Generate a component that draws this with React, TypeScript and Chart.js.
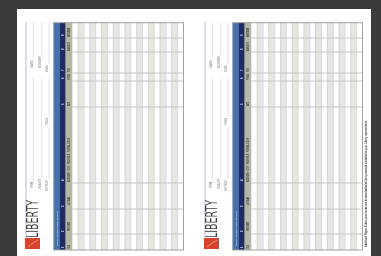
import React, { useEffect, useRef } from "react";
import { Chart, registerables } from "chart.js";

Chart.register(...registerables);

// ---- content ----
const pageOffsets = [0, 179];
const stripeCount = 19;
const rowBreaks = [22.7, 38, 52, 73, 81, 107, 183, 209, 234, 250];
const headerLabels = [
  "SHARES TO SUBSCRIBE",
  "AMOUNT",
  "UNITS",
  "FUND",
  "DATE",
  "ADDRESS · CITY · PROVINCE · POSTAL CODE",
  "LAST NAME",
  "FIRST NAME",
  "TITLE",
];
const headerNumbers = ["9", "8", "7", "6", "5", "4", "3", "2", "1"];
const fieldLabels = ["NAME", "ADVISOR", "EMAIL", "FIRM", "DEALER", "REP CODE", "PHONE"];
const brandName = "LIBERTY";
const sectionTitle = "NEW SUBSCRIPTIONS";
const footerText =
  "Additional Pages: Subscription forms can be downloaded at liberty.com and submitted to your Liberty representative.";

// ---- layout & style ----
const W = 381;
const H = 256;
const L = {
  page: [17, 371, 9, 256],
  rule: 26,
  blue: [53.7, 60],
  navy: [60, 65.7],
  green: [65.7, 72.3],
  grid: [72.3, 183.5],
  top: 22.7,
  bottom: 250,
  logo: [200, 238],
  red: [25, 40, 238, 249],
  footerX: 365.5,
  footerY: [120, 247],
};
// header label placement: gap above segment bottom, drawn length
const headerGap = [1, 1, 1, 1, 1, 1, 4, 3, 1];
const headerLen = [9, 9, 4, 6, 4, 44, 8, 9, 4];
// field geometry: line x, label bottom, label length, line top
const fieldGeom = [
  [33.3, 68, 8, 22.7],
  [41.7, 68, 12, 22.7],
  [49, 72, 7, 22.7],
  [33.3, 188, 6, 78],
  [41.7, 189, 10, 78],
  [49, 191, 11, 127],
  [49, 125, 7, 78],
];

const C = {
  bg: "#3b3b3b",
  page: "#ffffff",
  rule: "#b4b4e0",
  blue: "#4571a8",
  navy: "#1d2b68",
  green: "#b3b9a6",
  stripe: "#e6e7e1",
  sep: "#cfcfcf",
  row: "#c6c6c6",
  border: "#a2a2a2",
  field: "#d4d4d4",
  label: "#9a9a9a",
  red: "#d8432b",
};

const stripeW = (L.grid[1] - L.grid[0]) / stripeCount;
const stripeData: { x: number; y: [number, number] }[] = [];
const stripeColors: string[] = [];
pageOffsets.forEach((off) => {
  for (let i = 0; i < stripeCount; i++) {
    stripeData.push({ x: L.grid[0] + off + (i + 0.5) * stripeW, y: [L.top, L.bottom] });
    stripeColors.push(i % 2 === 1 ? C.stripe : C.page);
  }
});

const formPlugin = {
  id: "formPlugin",
  beforeDatasetsDraw(chart: any) {
    const ctx = chart.ctx;
    const xs = chart.scales.x;
    const ys = chart.scales.y;
    const px = (v: number) => xs.getPixelForValue(v);
    const py = (v: number) => ys.getPixelForValue(v);
    ctx.save();
    ctx.fillStyle = C.bg;
    ctx.fillRect(0, 0, W, H);
    ctx.fillStyle = C.page;
    ctx.fillRect(px(L.page[0]), py(L.page[2]), px(L.page[1]) - px(L.page[0]), py(L.page[3]) - py(L.page[2]));
    ctx.restore();
  },
  afterDatasetsDraw(chart: any) {
    const ctx = chart.ctx;
    const xs = chart.scales.x;
    const ys = chart.scales.y;
    const px = (v: number) => xs.getPixelForValue(v);
    const py = (v: number) => ys.getPixelForValue(v);

    const rect = (x0: number, x1: number, y0: number, y1: number, color: string) => {
      ctx.fillStyle = color;
      ctx.fillRect(px(x0), py(y0), px(x1) - px(x0), py(y1) - py(y0));
    };
    const vline = (x: number, y0: number, y1: number, color: string, lw: number) => {
      ctx.strokeStyle = color;
      ctx.lineWidth = lw;
      ctx.beginPath();
      ctx.moveTo(px(x), py(y0));
      ctx.lineTo(px(x), py(y1));
      ctx.stroke();
    };
    const hline = (y: number, x0: number, x1: number, color: string, lw: number) => {
      ctx.strokeStyle = color;
      ctx.lineWidth = lw;
      ctx.beginPath();
      ctx.moveTo(px(x0), py(y));
      ctx.lineTo(px(x1), py(y));
      ctx.stroke();
    };
    const vtext = (
      text: string,
      x: number,
      yBottom: number,
      font: string,
      color: string,
      fitLen?: number
    ) => {
      ctx.save();
      ctx.translate(px(x), py(yBottom));
      ctx.rotate(-Math.PI / 2);
      ctx.font = font;
      ctx.fillStyle = color;
      ctx.textAlign = "left";
      ctx.textBaseline = "middle";
      if (fitLen) {
        const w = ctx.measureText(text).width;
        const target = py(yBottom) - py(yBottom - fitLen);
        ctx.scale(target / w, 1);
      }
      ctx.fillText(text, 0, 0);
      ctx.restore();
    };

    ctx.save();
    pageOffsets.forEach((off, p) => {
      // left rule
      vline(L.rule + off, L.top - 1, L.red[2] - 1, C.rule, 1);

      // form fields
      fieldGeom.forEach((g, i) => {
        const [x, lb, len, top] = g;
        vline(x + off, top, lb - len - 1, C.field, 0.7);
        vtext(fieldLabels[i], x - 1.3 + off, lb, "600 2.6px Arial", C.label, len);
      });

      // header columns
      rect(L.blue[0] + off, L.blue[1] + off, L.top, L.bottom, C.blue);
      rect(L.navy[0] + off, L.navy[1] + off, L.top, L.bottom, C.navy);
      rect(L.green[0] + off, L.green[1] + off, L.top, L.bottom, C.green);

      // stripe separators
      for (let i = 1; i < stripeCount; i++) {
        vline(L.grid[0] + off + i * stripeW, L.top, L.bottom, C.sep, 0.8);
      }
      // row breaks
      rowBreaks.slice(1, -1).forEach((y) => {
        hline(y, L.green[1] + off, L.grid[1] + off, C.row, 1);
      });
      // outer border
      ctx.strokeStyle = C.border;
      ctx.lineWidth = 1;
      ctx.strokeRect(
        px(L.blue[0] + off),
        py(L.top),
        px(L.grid[1] + off) - px(L.blue[0] + off),
        py(L.bottom) - py(L.top)
      );

      // header labels and numbers
      for (let s = 0; s < rowBreaks.length - 1; s++) {
        const segBottom = rowBreaks[s + 1];
        vtext(
          headerLabels[s],
          (L.green[0] + L.green[1]) / 2 + off,
          segBottom - headerGap[s],
          "bold 2.8px Arial",
          "#3c4038",
          headerLen[s]
        );
        vtext(headerNumbers[s], (L.navy[0] + L.navy[1]) / 2 + off, segBottom - 2, "bold 2.6px Arial", "#dfe4f0");
      }
      vtext(
        sectionTitle,
        (L.blue[0] + L.blue[1]) / 2 + off,
        L.bottom - 4,
        "bold 2.4px Arial",
        "rgba(255,255,255,0.6)",
        35
      );

      // logo
      rect(L.red[0] + off, L.red[1] + off, L.red[2], L.red[3], C.red);
      ctx.strokeStyle = "rgba(255,220,210,0.6)";
      ctx.lineWidth = 0.8;
      ctx.beginPath();
      ctx.moveTo(px(L.red[0] + 3 + off), py(L.red[3] - 2));
      ctx.quadraticCurveTo(px(L.red[0] + 9 + off), py(L.red[2] + 4), px(L.red[1] - 2 + off), py(L.red[2] + 2));
      ctx.stroke();
      vtext(
        brandName,
        33.8 + off,
        L.logo[1],
        "15px 'Liberation Sans Narrow', 'DejaVu Sans Condensed', Arial",
        "#3f3f3f",
        L.logo[1] - L.logo[0]
      );

      if (p === 1) {
        vtext(footerText, L.footerX, L.footerY[1], "600 4px Arial", "#3a3a3a", L.footerY[1] - L.footerY[0]);
      }
    });
    ctx.restore();
  },
};

export default function App() {
  const ref = useRef<HTMLCanvasElement | null>(null);
  useEffect(() => {
    document.body.style.margin = "0";
    const canvas = ref.current;
    if (!canvas) return;
    const chart = new Chart(canvas, {
      type: "bar",
      data: {
        datasets: [
          {
            label: "stripes",
            data: stripeData as any,
            backgroundColor: stripeColors,
            borderWidth: 0,
            barPercentage: 1,
            categoryPercentage: 1,
          },
        ],
      },
      options: {
        responsive: false,
        animation: false,
        layout: { padding: 0 },
        plugins: { legend: { display: false }, tooltip: { enabled: false } },
        scales: {
          x: { type: "linear", min: 0, max: W, offset: false, display: false },
          y: { type: "linear", min: 0, max: H, reverse: true, display: false },
        },
      },
      plugins: [formPlugin],
    });
    return () => chart.destroy();
  }, []);
  return (
    <div style={{ width: W, height: H }}>
      <canvas ref={ref} width={W} height={H} style={{ display: "block" }} />
    </div>
  );
}
